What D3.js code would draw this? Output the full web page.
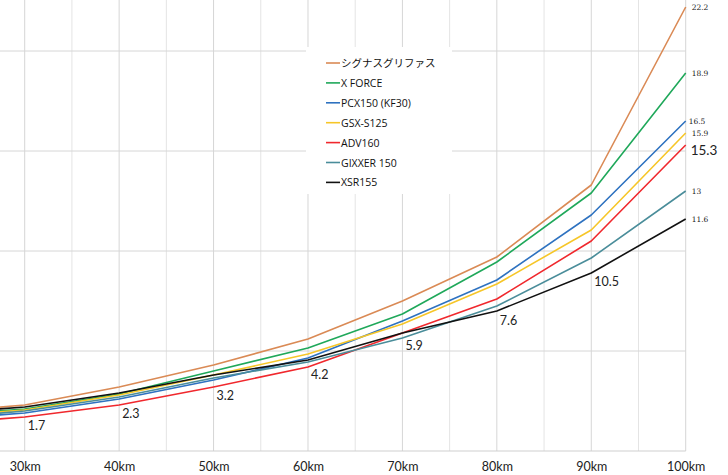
<!DOCTYPE html>
<html><head><meta charset="utf-8">
<script src="https://cdn.jsdelivr.net/npm/d3@7"></script>
<style>body{margin:0;background:#fff}svg{display:block}</style>
</head><body>
<script>
// ---- data ----
const distances = [20, 30, 40, 50, 60, 70, 80, 90, 100];
const tickValues = [30, 40, 50, 60, 70, 80, 90, 100];
const tickLabels = ["30km","40km","50km","60km","70km","80km","90km","100km"];
const seriesNames = ["シグナスグリファス","X FORCE","PCX150 (KF30)","GSX-S125","ADV160","GIXXER 150","XSR155"];
const cygnus = [1.9, 2.3, 3.2, 4.3, 5.6, 7.5, 9.7, 13.3, 22.2];
const xforce = [1.75, 2.1, 2.85, 4.0, 5.15, 6.85, 9.45, 12.9, 18.9];
const pcx150 = [1.55, 1.9, 2.6, 3.55, 4.65, 6.5, 8.55, 11.8, 16.5];
const gsxs125 = [1.7, 2.05, 2.8, 3.8, 4.85, 6.35, 8.35, 11.05, 15.9];
const adv160 = [1.35, 1.7, 2.3, 3.2, 4.2, 5.9, 7.6, 10.5, 15.3];
const gixxer150 = [1.6, 2.0, 2.7, 3.65, 4.45, 5.65, 7.25, 9.65, 13.0];
const xsr155 = [1.85, 2.2, 2.9, 3.8, 4.55, 5.9, 7.0, 8.9, 11.6];
const pointLabels = ["1.7","2.3","3.2","4.2","5.9","7.6","10.5"]; // ADV160 values 30..90km
const endLabels = ["22.2","18.9","16.5","15.9","15.3","13","11.6"];

const allSeries = [cygnus, xforce, pcx150, gsxs125, adv160, gixxer150, xsr155];
const colors = ["#DA8A55","#1FA85A","#2E72C0","#F6C628","#F0282D","#4A8D9A","#111111"];

// label offsets below the ADV160 points (style only)
const labelDy = [13, 13, 13, 12, 17, 26, 45];

const W = 728, H = 475;
const svg = d3.select("body").append("svg").attr("width", W).attr("height", H);

const x = d3.scaleLinear().domain([30, 100]).range([24.7, 685.7]);
const y = d3.scaleLinear().domain([0, 22.55]).range([451, 0]);
const sans = "Lato, 'Open Sans', 'Noto Sans', sans-serif";

// minor vertical gridlines
const minor = d3.range(35, 100, 10);
svg.append("g").selectAll("line").data(minor).join("line")
  .attr("x1", d => x(d)).attr("x2", d => x(d)).attr("y1", 0).attr("y2", 451)
  .attr("stroke", "#e4e4e4").attr("stroke-width", 1);
// major vertical gridlines
svg.append("g").selectAll("line").data(tickValues).join("line")
  .attr("x1", d => x(d)).attr("x2", d => x(d)).attr("y1", 0).attr("y2", 451)
  .attr("stroke", "#d6d6d6").attr("stroke-width", 1);
// horizontal gridlines
svg.append("g").selectAll("line").data([5, 10, 15, 20]).join("line")
  .attr("x1", 0).attr("x2", x(100)).attr("y1", d => y(d)).attr("y2", d => y(d))
  .attr("stroke", "#d6d6d6").attr("stroke-width", 1);
// x axis
const xAxis = d3.axisBottom(x).tickValues(tickValues).tickFormat((d, i) => tickLabels[i]).tickSize(0).tickPadding(11);
const gx = svg.append("g").attr("transform", `translate(0,${y(0)})`).call(xAxis);
gx.select(".domain").remove();
svg.append("line").attr("x1", 0).attr("x2", x(100)).attr("y1", y(0)).attr("y2", y(0)).attr("stroke", "#cfcfcf");
gx.selectAll("text").attr("font-family", sans).attr("font-size", 12.5).attr("fill", "#222");

// lines
const line = d3.line().x((d, i) => x(distances[i])).y(d => y(d));
svg.append("g").selectAll("path").data(allSeries).join("path")
  .attr("d", d => line(d)).attr("fill", "none")
  .attr("stroke", (d, i) => colors[i]).attr("stroke-width", 1.6).attr("stroke-linejoin", "round");

// point labels (ADV160 values)
svg.append("g").selectAll("text").data(pointLabels).join("text")
  .attr("x", (d, i) => x(tickValues[i]) + 3)
  .attr("y", (d, i) => y(adv160[i + 1]) + labelDy[i])
  .attr("font-family", sans).attr("font-size", 12.5).attr("fill", "#222")
  .text(d => d);

// end labels at 100km
const last = distances.length - 1;
svg.append("g").selectAll("text").data(endLabels).join("text")
  .attr("x", (d, i) => x(100) + (i === 4 ? 5 : i === 2 ? 3 : 6))
  .attr("y", (d, i) => y(allSeries[i][last]) + (i === 4 ? 10 : 3))
  .attr("font-family", (d, i) => i === 4 ? sans : "'DejaVu Serif', serif")
  .attr("font-size", (d, i) => i === 4 ? 13.5 : 7.5)
  .attr("fill", "#222")
  .text(d => d);

// legend
const lg = svg.append("g").attr("transform", "translate(306,47)");
lg.append("rect").attr("width", 146).attr("height", 147).attr("fill", "#fff");
const items = lg.selectAll("g").data(seriesNames).join("g")
  .attr("transform", (d, i) => `translate(0,${16 + i * 19.9})`);
items.append("line").attr("x1", 20).attr("x2", 34).attr("y1", 0).attr("y2", 0)
  .attr("stroke", (d, i) => colors[i]).attr("stroke-width", 1.6);
items.append("text").attr("x", 35).attr("y", 4)
  .attr("font-family", "'Open Sans', 'Noto Sans', 'Noto Sans CJK JP', sans-serif").attr("font-size", 10.5).attr("fill", "#111")
  .text(d => d);
</script>
</body></html>
